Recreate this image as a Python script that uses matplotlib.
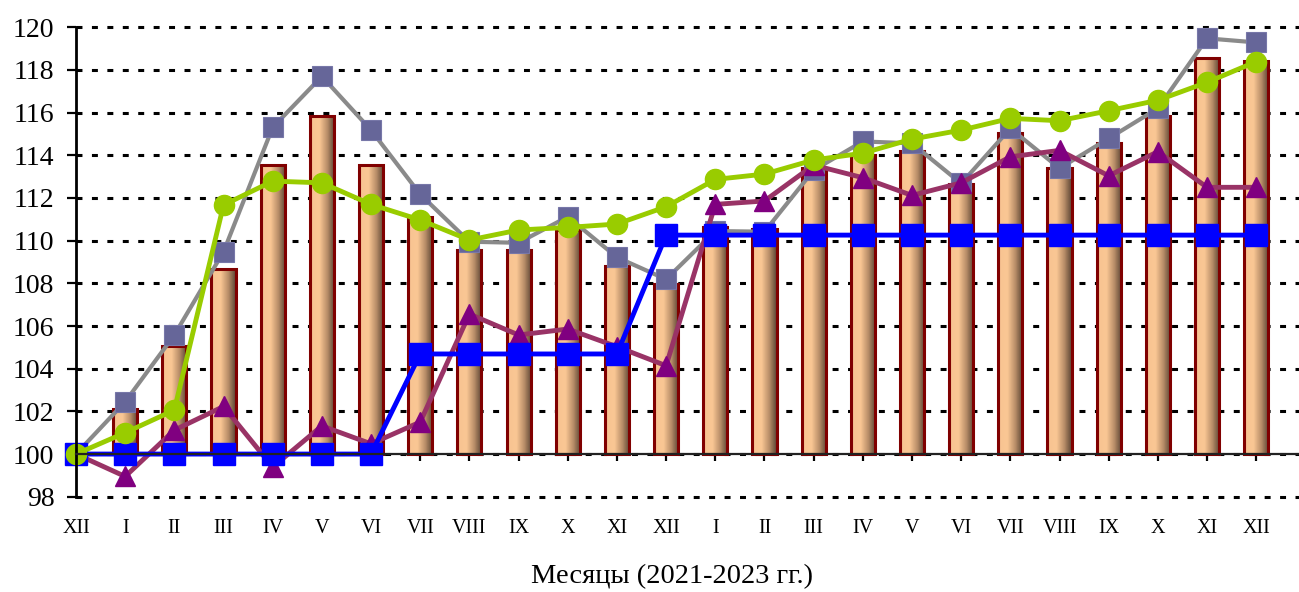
import numpy as np
import matplotlib
matplotlib.use("Agg")
import matplotlib.pyplot as plt
from matplotlib.colors import LinearSegmentedColormap

# categories: Dec 2021 .. Dec 2023
months = ['XII', 'I', 'II', 'III', 'IV', 'V', 'VI', 'VII', 'VIII', 'IX', 'X', 'XI',
          'XII', 'I', 'II', 'III', 'IV', 'V', 'VI', 'VII', 'VIII', 'IX', 'X', 'XI', 'XII']

bar_vals = [100, 102.1, 105.07, 108.65, 113.55, 115.85, 113.55, 111.1, 109.57, 109.56,
            110.5, 108.8, 107.97, 110.62, 110.53, 113.4, 114.0, 114.2, 112.64, 115.03,
            113.42, 114.56, 115.85, 118.57, 118.43]
gray_vals = [100, 102.45, 105.58, 109.48, 115.31, 117.7, 115.18, 112.17, 109.95, 109.9,
             111.12, 109.22, 108.19, 110.45, 110.42, 113.3, 114.65, 114.56, 112.68, 115.26,
             113.39, 114.79, 116.2, 119.48, 119.29]
green_vals = [100, 101.0, 102.06, 111.67, 112.79, 112.71, 111.7, 110.97, 110.03, 110.5,
              110.62, 110.78, 111.59, 112.87, 113.12, 113.78, 114.1, 114.76, 115.18, 115.73,
              115.62, 116.09, 116.58, 117.42, 118.39]
tri_vals = [100, 98.95, 101.12, 102.23, 99.39, 101.32, 100.48, 101.5, 106.56, 105.58,
            105.86, 105.03, 104.14, 111.7, 111.86, 113.54, 112.95, 112.12, 112.71, 113.93,
            114.23, 113.04, 114.17, 112.5, 112.5]
blue_vals = [100, 100, 100, 100, 100, 100, 100, 104.69, 104.69, 104.69, 104.69, 104.69,
             110.26, 110.26, 110.26, 110.26, 110.26, 110.26, 110.26, 110.26, 110.26, 110.26,
             110.26, 110.26, 110.26]

yticks = list(range(98, 121, 2))

plt.rcParams['font.family'] = ['Liberation Serif', 'DejaVu Serif']

fig = plt.figure(figsize=(12.99, 5.92), dpi=100)
ax = fig.add_axes([76 / 1299, 91 / 592, 1223 / 1299, 478 / 592])

x = np.arange(len(months))
ylo, yhi = 97.8, 120.2
xlo, xhi = 0, 24.87

# bars start at 100; gradient fill is drawn as an image inside each bar
base = 100
heights = [v - base for v in bar_vals]
bars = ax.bar(x, heights, width=0.49, bottom=base, facecolor='none',
              edgecolor='#800000', linewidth=2.2, zorder=3)

grad_cmap = LinearSegmentedColormap.from_list(
    'peach', [(0.0, '#E4AC84'), (0.1, '#F8C492'), (0.38, '#FAC794'),
              (0.7, '#B88D68'), (1.0, '#5A4434')])
grad = np.linspace(0, 1, 64).reshape(1, -1)
for b in bars:
    if b.get_height() <= 0:
        continue
    x0, y0 = b.get_x(), b.get_y()
    ax.imshow(grad, cmap=grad_cmap, aspect='auto', zorder=2.5,
              extent=[x0, x0 + b.get_width(), y0, y0 + b.get_height()],
              interpolation='bilinear')

# lines
ax.plot(x, gray_vals, color='#8A8A8A', lw=3.0, marker='s', ms=14.5,
        mfc='#666699', mec='#7777A8', mew=0.8, zorder=4, clip_on=False)
ax.plot(x, tri_vals, color='#993366', lw=3.5, marker='^', ms=15,
        mfc='#800080', mec='#800080', zorder=5, clip_on=False)
ax.plot(x, blue_vals, color='#0000FF', lw=3.5, marker='s', ms=15.5,
        mfc='#0000FF', mec='#0000FF', zorder=6, clip_on=False)
ax.plot(x, green_vals, color='#99CC00', lw=3.5, marker='o', ms=14.5,
        mfc='#99CC00', mec='#99CC00', zorder=7, clip_on=False)

ax.set_xlim(xlo, xhi)
ax.set_ylim(ylo, yhi)

# axes styling
for s in ['top', 'right']:
    ax.spines[s].set_visible(False)
ax.spines['left'].set_bounds(98, 120)
ax.spines['left'].set_linewidth(2)
ax.spines['left'].set_zorder(8)
ax.spines['bottom'].set_position(('data', 100))
ax.spines['bottom'].set_linewidth(1.6)
ax.spines['bottom'].set_color('#222222')
ax.spines['bottom'].set_zorder(8)

ax.set_yticks(yticks)
ax.set_yticklabels([str(t) for t in yticks], fontsize=20)
ax.tick_params(axis='y', direction='out', length=6.5, width=1.6, pad=9)

ax.set_xticks(x)
ax.set_xticklabels(months, fontsize=14.5)
ax.tick_params(axis='x', direction='out', length=5, width=1.6, pad=42)

ax.yaxis.grid(True, color='black', lw=2.2, linestyle=(0, (1.95, 3.1)), zorder=1)
ax.set_axisbelow(True)

fig.text(672 / 1299, 1 - 577 / 592, 'Месяцы (2021-2023 гг.)', fontsize=20.5,
         ha='center', va='center')

fig.savefig('out.png', dpi=100)
